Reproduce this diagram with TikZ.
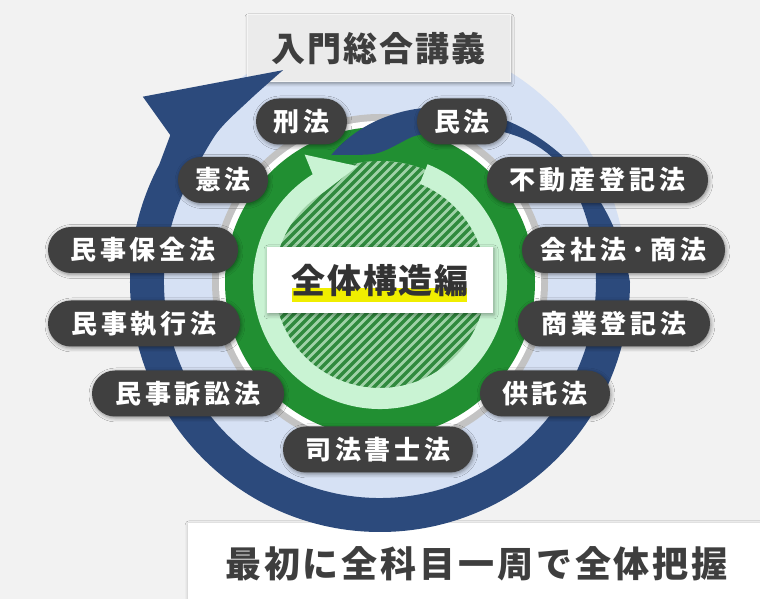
\documentclass[tikz,border=0pt]{standalone}
\usepackage{fontspec}
\setmainfont{Noto Sans CJK JP}
\usetikzlibrary{shadows.blur}
\definecolor{bg}{RGB}{242,242,242}
\definecolor{navy}{RGB}{44,74,124}
\definecolor{lblue}{RGB}{214,225,244}
\definecolor{ringgrey}{RGB}{195,195,195}
\definecolor{dgreen}{RGB}{33,143,50}
\definecolor{lgreen}{RGB}{201,243,211}
\definecolor{hatchlight}{RGB}{160,210,168}
\definecolor{hatchdark}{RGB}{48,138,62}
\definecolor{pillgrey}{RGB}{64,64,64}
\definecolor{titlegrey}{RGB}{235,235,235}
\definecolor{textdark}{RGB}{62,62,62}
\definecolor{hilite}{RGB}{240,238,0}
\begin{document}
\begin{tikzpicture}[x=1pt,y=1pt,
  declare function={
    tq(\p)=min(\p/111,1);
    ro(\p)=136+114*(tq(\p)+0.3*tq(\p)*(1-tq(\p)));
    tp(\p)=min(max((tq(\p)-0.15)/0.6,0),1);
    ri(\p)=136+80*(3*tp(\p)*tp(\p)-2*tp(\p)*tp(\p)*tp(\p))-8*sin(180*min(tq(\p)/0.3,1));
  },
  pill/.style={fill=pillgrey, rounded corners=23pt, minimum height=46pt, inner sep=0pt,
    text=white, font=\fontsize{26}{26}\selectfont\bfseries\addfontfeatures{LetterSpace=15},
    blur shadow={shadow xshift=1pt, shadow yshift=-1.5pt, shadow blur radius=4pt, shadow opacity=45}},
  titlebox/.style={fill=titlegrey, draw=white!50!titlegrey, line width=1pt, minimum width=263pt, minimum height=67pt,
    inner sep=0pt, text=textdark, font=\fontsize{34}{34}\selectfont\bfseries\addfontfeatures{LetterSpace=6},
    blur shadow={shadow xshift=1pt, shadow yshift=-2pt, shadow blur radius=3pt, shadow opacity=35}},
  whitebox/.style={fill=white, inner sep=0pt,
    blur shadow={shadow xshift=1pt, shadow yshift=-2pt, shadow blur radius=4pt, shadow opacity=35}},
  bigtext/.style={inner sep=0pt, text=textdark, font=\fontsize{36}{36}\selectfont\bfseries\addfontfeatures{LetterSpace=8}},
  centertext/.style={inner sep=0pt, text={rgb,255:red,51;green,51;blue,51}, font=\fontsize{34}{34}\selectfont\bfseries\addfontfeatures{LetterSpace=5}},
]
% background
\fill[bg] (0,0) rectangle (760,599);
\useasboundingbox (0,0) rectangle (760,599);

% bottom box
\node[whitebox, minimum width=572pt, minimum height=76pt, anchor=south west] (bottombox) at (188,0) {};
\node[bigtext] (bottomtext) at (476.5,35.5) {最初に全科目一周で全体把握};

% discs
\coordinate (C) at (380,317);
\fill[lblue] (C) circle[radius=247];
\fill[ringgrey] (C) circle[radius=168];
\fill[white] (C) circle[radius=161];
\fill[dgreen] (C) circle[radius=155];

% hatched disc
\begin{scope}
  \clip (C) circle[radius=121];
  \fill[hatchlight] (C) circle[radius=121];
  \foreach \k in {-30,...,30}
    \draw[hatchdark, line width=3.2pt] ({380+9*\k-130},{317-130}) -- ({380+9*\k+130},{317+130});
\end{scope}

% light green arrow ring
\begin{scope}[shift={(380,317)}]
  \fill[lgreen] (68:127) arc[start angle=68, end angle=-238, radius=127]
    -- (-239.4:148) -- (-259:118) -- (-238:106)
    arc[start angle=-238, end angle=68, radius=106] -- cycle;
\end{scope}

% title box
\node[titlebox] (title) at (378.5,550.5) {入門総合講義};

% blue spiral arrow
\begin{scope}[shift={(380,317)}]
  \fill[navy] plot[domain=0:111, samples=60, variable=\p] ({111-\p}:{ro(\p)})
    arc[start angle=0, end angle=-208, radius=250]
    -- (-215:256) -- (-218:301) -- (-245.4:233)
    -- plot[smooth] coordinates {(-245.4:233) (-234.5:224) (-222.4:221) (-208:216)}
    arc[start angle=-208, end angle=0, radius=216]
    -- plot[domain=111:0, samples=60, variable=\p] ({111-\p}:{ri(\p)}) -- cycle;
\end{scope}

% center box
\node[whitebox, minimum width=226pt, minimum height=66pt] (centerbox) at (380,319) {};
\fill[hilite] (292,297) rectangle (467,311);
\node[centertext] (centerlabel) at (380,318) {全体構造編};

% labels
\node[pill, minimum width=91pt] (keiho) at (301.5,477.5) {刑法};
\node[pill, minimum width=90pt] (minpo) at (462,477.5) {民法};
\node[pill, minimum width=90pt] (kenpo) at (223,419) {憲法};
\node[pill, minimum width=221pt] (fudosan) at (597.5,419) {不動産登記法};
\node[pill, minimum width=190pt] (hozen) at (143,349) {民事保全法};
\node[pill, minimum width=203pt] (kaisha) at (623.5,349) {会社法·商法};
\node[pill, minimum width=192pt] (shikko) at (144,275.5) {民事執行法};
\node[pill, minimum width=192pt] (shogyo) at (614,275.5) {商業登記法};
\node[pill, minimum width=192pt] (sosho) at (188,205.5) {民事訴訟法};
\node[pill, minimum width=130pt] (kyotaku) at (545,205.5) {供託法};
\node[pill, minimum width=190pt] (shihou) at (378,149.5) {司法書士法};
\end{tikzpicture}
\end{document}
